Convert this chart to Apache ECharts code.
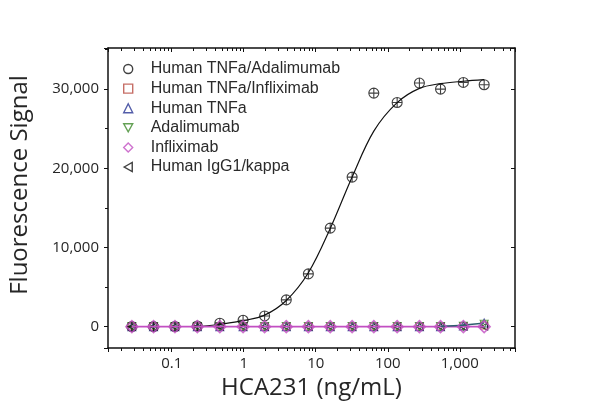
<!DOCTYPE html>
<html>
<head>
<meta charset="utf-8">
<script src="https://cdn.jsdelivr.net/npm/echarts@6/dist/echarts.min.js"></script>
<style>
  html, body { margin: 0; padding: 0; background: #fff; }
  #main { width: 600px; height: 419px; }
</style>
</head>
<body>
<div id="main"></div>
<script>
// concentrations (ng/mL)
const conc = [0.028, 0.056, 0.111, 0.227, 0.466, 0.98, 1.95, 3.9, 7.9, 15.9, 32, 64, 135, 275, 540, 1120, 2180];

// measured signal per sample
const tnfAdalimumab = [0, 0, 20, 80, 430, 800, 1350, 3380, 6660, 12440, 18890, 29500, 28320, 30770, 30010, 30850, 30560];
const tnfInfliximab = [0, 0, 0, 0, 0, 0, 0, 0, 0, 0, 0, 0, 0, 0, 0, 50, 150];
const tnfOnly       = [0, 0, 0, 0, 0, 0, 0, 0, 0, 0, 0, 0, 0, 0, 0, 100, 450];
const adalimumab    = [0, 0, 0, 0, 0, 0, 0, 0, 0, 0, 0, 0, 0, 0, 0, 50, 300];
const infliximab    = [0, 0, 0, 0, 0, 0, 0, 0, 0, 0, 0, 0, 0, 0, 0, 0, 0];
const iggKappa      = [0, 0, 0, 0, 0, 0, 0, 0, 0, 0, 0, 0, 0, 0, 0, 0, 0];

// fitted curves
const fitConc = [0.26, 0.47, 0.98, 1.95, 3.9, 7.9, 15.9, 32, 64, 135, 275, 540, 1120, 2180];
const fitAda  = [40, 300, 750, 1450, 3300, 6800, 12400, 18900, 24700, 28300, 30100, 30700, 31000, 31200];
const flatConc = [0.028, 2180];
const flatInflix = [0, 0];
const tnfFitConc = [540, 1120, 2180];
const tnfFit = [60, 180, 450];

const names = ['Human TNFa/Adalimumab', 'Human TNFa/Infliximab', 'Human TNFa', 'Adalimumab', 'Infliximab', 'Human IgG1/kappa'];

const pair = (xs, ys) => xs.map((x, i) => [x, ys[i]]);

const crossCircle = 'path://M0,5A5,5,0,1,1,10,5A5,5,0,1,1,0,5ZM5,0L5,10M0,5L10,5';
const downTri = 'path://M0,0L10,0L5,9Z';
const leftTri = 'path://M0,5L9,0L9,10Z';

const colors = ['#111111', '#b84a40', '#283593', '#3d8a2a', '#c24fc2', '#111111'];
const legendIcons = ['circle', 'rect', 'triangle', downTri, 'diamond', leftTri];
const markers = [crossCircle, 'rect', 'triangle', downTri, 'diamond', leftTri];
const sizes = [10, 7, 8, 8, 12, 7];
const order = [3, 2, 2, 2, 6, 2];
const sets = [tnfAdalimumab, tnfInfliximab, tnfOnly, adalimumab, infliximab, iggKappa];

const chart = echarts.init(document.getElementById('main'));

const scatterSeries = names.map((n, i) => ({
  name: n,
  type: 'scatter',
  symbol: markers[i],
  symbolSize: sizes[i],
  data: pair(conc, sets[i]),
  itemStyle: { color: 'rgba(0,0,0,0)', borderColor: colors[i], borderWidth: i === 4 ? 1.5 : 1.1 },
  z: order[i]
}));

const fitLine = (data, color, w) => ({
  type: 'line',
  data: data,
  smooth: 0.35,
  showSymbol: false,
  silent: true,
  lineStyle: { color: color, width: w },
  z: 5
});

const axisLabelStyle = { fontFamily: 'Open Sans', fontSize: 15, color: '#262626' };
const frame = { onZero: false, lineStyle: { color: '#111', width: 1.5 } };

chart.setOption({
  animation: false,
  grid: { left: 106, right: 85, top: 48, bottom: 71 },
  legend: {
    orient: 'vertical',
    left: 118,
    top: 56,
    itemWidth: 9,
    itemHeight: 9,
    itemGap: 3.6,
    textStyle: { fontFamily: 'Liberation Sans', fontSize: 16, lineHeight: 16, color: '#2a2a2a', padding: [0, 0, 0, 13] },
    data: names.map((n, i) => ({
      name: n,
      icon: legendIcons[i],
      itemStyle: { color: 'rgba(0,0,0,0)', borderColor: colors[i], borderWidth: 1.4 }
    }))
  },
  xAxis: [{
    type: 'log',
    min: 0.01306,
    max: 5840,
    position: 'bottom',
    name: 'HCA231 (ng/mL)',
    nameLocation: 'middle',
    nameGap: 24,
    nameTextStyle: { fontFamily: 'Open Sans', fontSize: 24, color: '#262626' },
    axisLine: frame,
    axisTick: { inside: false, length: 4, lineStyle: { color: '#111' } },
    minorTick: { show: true, splitNumber: 9, length: 3, lineStyle: { color: '#111' } },
    splitLine: { show: false },
    axisLabel: Object.assign({
      margin: 8,
      showMinLabel: false,
      showMaxLabel: false,
      formatter: v => v >= 1000 ? v.toLocaleString('en-US') : String(v)
    }, axisLabelStyle)
  }, {
    type: 'log',
    min: 0.01306,
    max: 5840,
    position: 'top',
    axisLine: frame,
    axisTick: { inside: true, length: 4, lineStyle: { color: '#111' } },
    minorTick: { show: true, splitNumber: 9, length: 3, lineStyle: { color: '#111' } },
    splitLine: { show: false },
    axisLabel: { show: false }
  }],
  yAxis: [{
    type: 'value',
    min: -2700,
    max: 35200,
    position: 'left',
    name: 'Fluorescence Signal',
    nameLocation: 'middle',
    nameGap: 76,
    nameTextStyle: { fontFamily: 'Open Sans', fontSize: 24, color: '#262626', padding: [0, 0, 0, 26] },
    axisLine: Object.assign({ show: true }, frame),
    axisTick: { show: true, inside: false, length: 4, lineStyle: { color: '#111' } },
    minorTick: { show: true, splitNumber: 2, length: 3, lineStyle: { color: '#111' } },
    splitLine: { show: false },
    axisLabel: Object.assign({
      margin: 9,
      showMinLabel: false,
      showMaxLabel: false,
      formatter: v => v.toLocaleString('en-US')
    }, axisLabelStyle)
  }, {
    type: 'value',
    min: -2700,
    max: 35200,
    position: 'right',
    axisLine: Object.assign({ show: true }, frame),
    axisTick: { show: true, inside: true, length: 4, lineStyle: { color: '#111' } },
    splitLine: { show: false },
    axisLabel: { show: false }
  }],
  series: scatterSeries.concat([
    fitLine(pair(fitConc, fitAda), '#111', 1.2),
    fitLine(pair(flatConc, flatInflix), '#c24fc2', 1.8),
    fitLine(pair(tnfFitConc, tnfFit), '#2e5f6e', 1.5)
  ])
});
</script>
</body>
</html>
